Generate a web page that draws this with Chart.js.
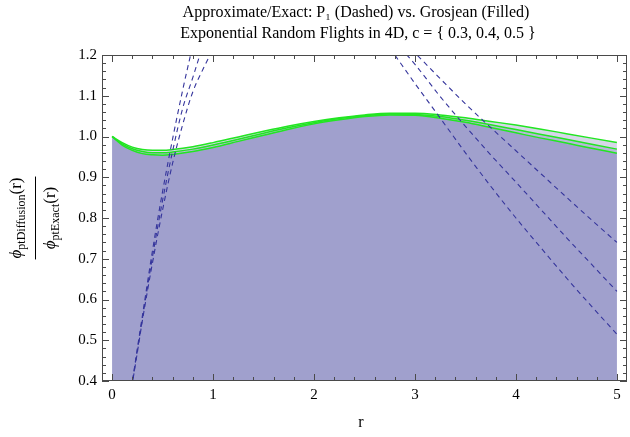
<!DOCTYPE html>
<html><head><meta charset="utf-8">
<script src="https://cdn.jsdelivr.net/npm/chart.js@4"></script>
<style>html,body{margin:0;padding:0;background:#fff}</style>
</head><body>
<canvas id="c" width="630" height="437" style="width:630px;height:437px;display:block"></canvas>
<script>
// ---- data ----
const titleLine1 = "Approximate/Exact: P\u2081 (Dashed) vs. Grosjean (Filled)";
const titleLine2 = "Exponential Random Flights in 4D, c = { 0.3, 0.4, 0.5 }";
const xAxisTitle = "r";
const xTickValues = [0, 1, 2, 3, 4, 5];
const yTickValues = [0.4, 0.5, 0.6, 0.7, 0.8, 0.9, 1.0, 1.1, 1.2];

// Grosjean (filled) ratio curves
const grosjeanR = [0, 0.1, 0.2, 0.3, 0.4, 0.5, 0.6, 0.8, 1.0, 1.25, 1.5, 1.75, 2.0, 2.25, 2.5, 2.75, 3.0, 3.25, 3.5, 3.75, 4.0, 4.25, 4.5, 4.75, 5.0];
const grosjeanC03 = [1.0, 0.985, 0.974, 0.968, 0.966, 0.966, 0.968, 0.975, 0.985, 0.999, 1.013, 1.026, 1.037, 1.046, 1.053, 1.057, 1.057, 1.053, 1.046, 1.037, 1.028, 1.018, 1.007, 0.996, 0.985];
const grosjeanC04 = [1.0, 0.982, 0.970, 0.963, 0.960, 0.960, 0.962, 0.969, 0.979, 0.993, 1.008, 1.022, 1.034, 1.044, 1.051, 1.055, 1.054, 1.049, 1.040, 1.029, 1.017, 1.005, 0.993, 0.981, 0.969];
const grosjeanC05 = [1.0, 0.979, 0.966, 0.958, 0.955, 0.954, 0.956, 0.963, 0.973, 0.988, 1.003, 1.018, 1.031, 1.041, 1.049, 1.053, 1.052, 1.045, 1.035, 1.022, 1.009, 0.996, 0.984, 0.971, 0.959];

// P1 (dashed) ratio curves: left branch (rising) and right branch (falling)
const p1LeftR_C03 = [0.19, 0.25, 0.3, 0.4, 0.5, 0.6, 0.7, 0.8];
const p1LeftV_C03 = [0.38, 0.48, 0.56, 0.72, 0.865, 0.995, 1.115, 1.225];
const p1LeftR_C04 = [0.19, 0.25, 0.3, 0.4, 0.5, 0.6, 0.7, 0.8, 0.9];
const p1LeftV_C04 = [0.38, 0.475, 0.553, 0.705, 0.843, 0.965, 1.07, 1.145, 1.225];
const p1LeftR_C05 = [0.195, 0.25, 0.3, 0.4, 0.5, 0.6, 0.7, 0.8, 0.9, 1.0];
const p1LeftV_C05 = [0.385, 0.47, 0.548, 0.69, 0.82, 0.935, 1.03, 1.11, 1.165, 1.215];

const p1RightR_C03 = [2.7, 2.8, 3.0, 3.25, 3.5, 3.75, 4.0, 4.25, 4.5, 4.75, 5.0];
const p1RightV_C03 = [1.235, 1.2, 1.13, 1.045, 0.96, 0.878, 0.80, 0.726, 0.653, 0.583, 0.515];
const p1RightR_C04 = [2.8, 2.92, 3.0, 3.25, 3.5, 3.75, 4.0, 4.25, 4.5, 4.75, 5.0];
const p1RightV_C04 = [1.235, 1.2, 1.177, 1.098, 1.025, 0.955, 0.888, 0.82, 0.752, 0.686, 0.62];
const p1RightR_C05 = [2.9, 3.02, 3.25, 3.5, 3.75, 4.0, 4.25, 4.5, 4.75, 5.0];
const p1RightV_C05 = [1.23, 1.2, 1.142, 1.08, 1.022, 0.965, 0.908, 0.851, 0.795, 0.74];

// ---- build ----
const pts = (xs, ys) => xs.map((x, i) => ({x: x, y: ys[i]}));
const FILL = 'rgba(88,88,166,0.245)';
const GREEN = '#22e622';
const DASH = '#35359c';

function filled(ys) {
  return { data: pts(grosjeanR, ys), borderColor: GREEN, borderWidth: 1.5, backgroundColor: FILL,
           fill: 'start', pointRadius: 0, cubicInterpolationMode: 'monotone' };
}
function dashed(xs, ys) {
  return { data: pts(xs, ys), borderColor: DASH, borderWidth: 1.1, borderDash: [5, 4], fill: false,
           pointRadius: 0, cubicInterpolationMode: 'monotone' };
}

const FRAME = '#4a4a4a';
const serif = '"Liberation Serif", "DejaVu Serif", serif';

const decor = {
  id: 'decor',
  afterDatasetsDraw(chart) {
    const ctx = chart.ctx, a = chart.chartArea;
    const xs = chart.scales.x, ys = chart.scales.y;
    ctx.save();
    ctx.strokeStyle = FRAME; ctx.lineWidth = 1;
    ctx.strokeRect(a.left + 0.5, a.top + 0.5, a.right - a.left - 1, a.bottom - a.top - 1);
    ctx.beginPath();
    for (let i = 0; i <= 25; i++) {
      const v = i * 0.2;
      const px = Math.round(xs.getPixelForValue(v)) + 0.5;
      const len = (i % 5 === 0) ? 7 : 4;
      ctx.moveTo(px, a.bottom); ctx.lineTo(px, a.bottom - len);
      ctx.moveTo(px, a.top); ctx.lineTo(px, a.top + len);
    }
    for (let i = 0; i <= 40; i++) {
      const v = 0.4 + i * 0.02;
      const py = Math.round(ys.getPixelForValue(v)) + 0.5;
      const len = (i % 5 === 0) ? 7 : 4;
      ctx.moveTo(a.left, py); ctx.lineTo(a.left + len, py);
      ctx.moveTo(a.right, py); ctx.lineTo(a.right - len, py);
    }
    ctx.stroke();

    ctx.fillStyle = '#000';
    ctx.textAlign = 'center'; ctx.textBaseline = 'alphabetic';
    ctx.font = '16px ' + serif;
    ctx.fillText(titleLine1, 356, 17);
    ctx.fillText(titleLine2, 358, 38);
    ctx.fillText(xAxisTitle, 361, 427);

    const cy = (a.top + a.bottom) / 2;
    function frac(baseX, sub) {
      ctx.save();
      ctx.translate(baseX, cy);
      ctx.rotate(-Math.PI / 2);
      ctx.textAlign = 'left';
      const f1 = 'italic 17px ' + serif, f2 = '12px ' + serif, f3 = '17px ' + serif;
      ctx.font = f1; const w1 = ctx.measureText('\u03D5').width;
      ctx.font = f2; const w2 = ctx.measureText(sub).width;
      ctx.font = f3; const w3 = ctx.measureText('(r)').width;
      let x0 = -(w1 + w2 + w3) / 2;
      ctx.font = f1; ctx.fillText('\u03D5', x0, 0); x0 += w1;
      ctx.font = f2; ctx.fillText(sub, x0, 3.5); x0 += w2;
      ctx.font = f3; ctx.fillText('(r)', x0, 0);
      ctx.restore();
      return w1 + w2 + w3;
    }
    const wNum = frac(21, 'ptDiffusion');
    frac(55, 'ptExact');
    ctx.strokeStyle = '#000'; ctx.lineWidth = 1;
    ctx.beginPath();
    ctx.moveTo(35.5, cy - wNum / 2 - 1); ctx.lineTo(35.5, cy + wNum / 2 + 1);
    ctx.stroke();
    ctx.restore();
  }
};

new Chart(document.getElementById('c'), {
  type: 'line',
  data: {
    datasets: [
      dashed(p1LeftR_C03, p1LeftV_C03), dashed(p1LeftR_C04, p1LeftV_C04), dashed(p1LeftR_C05, p1LeftV_C05),
      dashed(p1RightR_C03, p1RightV_C03), dashed(p1RightR_C04, p1RightV_C04), dashed(p1RightR_C05, p1RightV_C05),
      filled(grosjeanC03), filled(grosjeanC04), filled(grosjeanC05)
    ]
  },
  options: {
    responsive: false, animation: false, devicePixelRatio: 1,
    layout: { padding: { left: 0, right: 3, top: 55, bottom: 0 } },
    plugins: { legend: { display: false }, title: { display: false }, tooltip: { enabled: false },
               filler: { drawTime: 'beforeDatasetsDraw' } },
    scales: {
      x: {
        type: 'linear', min: -0.1, max: 5.1,
        afterBuildTicks: s => { s.ticks = xTickValues.map(v => ({ value: v })); },
        afterFit: s => { s.height = 56; },
        grid: { display: false, drawTicks: false }, border: { display: false },
        ticks: { padding: 5, color: '#000', font: { family: serif, size: 15 }, callback: v => String(v), maxRotation: 0 }
      },
      y: {
        type: 'linear', min: 0.4, max: 1.2,
        afterBuildTicks: s => { s.ticks = yTickValues.map(v => ({ value: v })); },
        afterFit: s => { s.width = 102; },
        grid: { display: false, drawTicks: false }, border: { display: false },
        ticks: { padding: 5, color: '#000', font: { family: serif, size: 15 }, callback: v => v.toFixed(1) }
      }
    }
  },
  plugins: [decor]
});
</script>
</body></html>
